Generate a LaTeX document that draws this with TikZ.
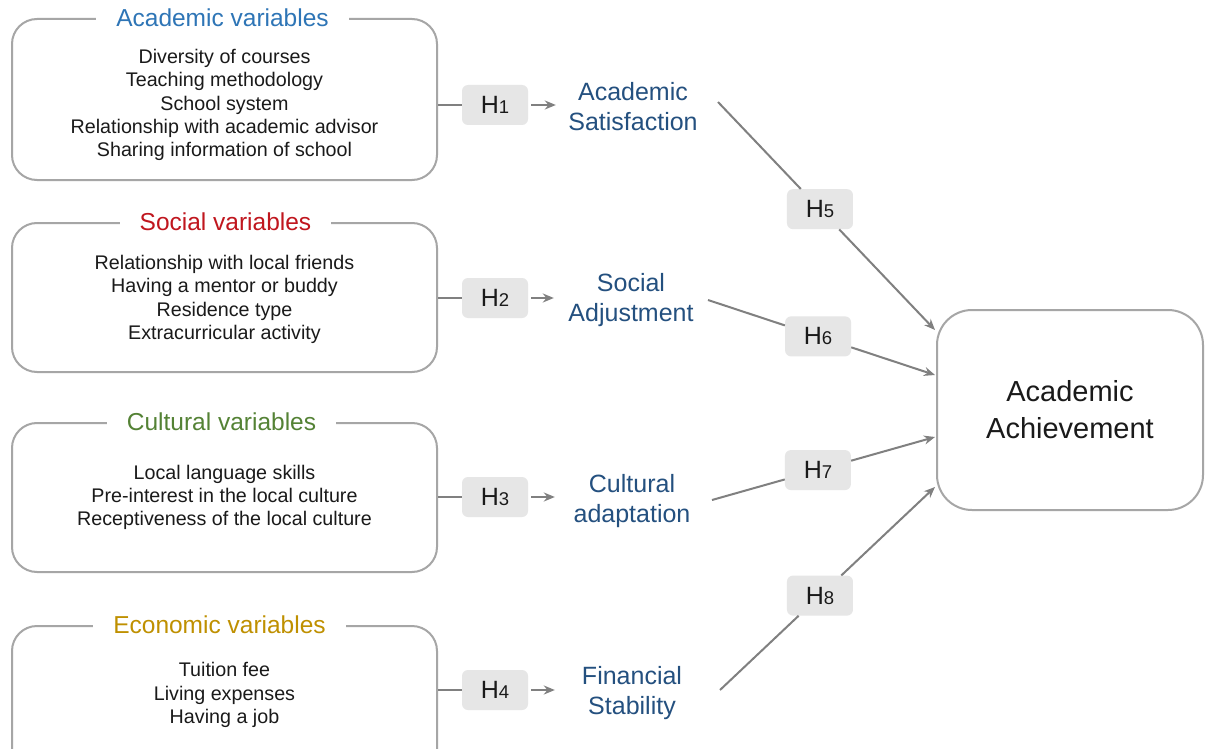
\documentclass[tikz,border=0pt]{standalone}
\usepackage{fontspec}
\setmainfont{Liberation Sans}
\usetikzlibrary{arrows.meta,calc}
\definecolor{boxgray}{HTML}{A6A6A6}
\definecolor{conngray}{HTML}{808080}
\definecolor{hfill}{HTML}{E6E6E6}
\definecolor{medblue}{HTML}{24507F}
\definecolor{acablue}{HTML}{2E75B6}
\definecolor{socred}{HTML}{C0161E}
\definecolor{culgreen}{HTML}{548235}
\definecolor{ecogold}{HTML}{BF9000}
\definecolor{txt}{HTML}{1A1A1A}
\newcommand\hyp[1]{{\fontsize{25}{30}\selectfont H}{\fontsize{18.5}{20}\selectfont #1}}
\begin{document}
\begin{tikzpicture}[x=1pt,y=-1pt,
 varbox/.style={draw=boxgray,line width=2pt,rounded corners=25pt,minimum width=425pt,inner sep=0pt},
 vartitle/.style={fill=white,inner xsep=20pt,inner ysep=2pt,font=\fontsize{24.5}{28}\selectfont},
 vartext/.style={align=center,text=txt,inner sep=0pt,font=\fontsize{19.7}{23.3}\selectfont},
 hbox/.style={fill=hfill,rounded corners=6pt,minimum width=66pt,minimum height=40pt,inner sep=0pt,text=txt},
 med/.style={align=center,text=medblue,text width=150pt,inner sep=0pt,font=\fontsize{25}{30}\selectfont},
 conn/.style={draw=conngray,line width=2pt},
 arr/.style={conn,-{Stealth[length=11pt,width=9pt]}},
 short/.style={arr,shorten <=3pt,shorten >=2pt},
]
\useasboundingbox (0,0) rectangle (1205,749);
\fill[white] (0,0) rectangle (1205,749);
\clip (0,0) rectangle (1205,749);

% variable boxes
\node[varbox,minimum height=161pt] (b1) at (224.5,99.5) {};
\node[varbox,minimum height=149pt] (b2) at (224.5,297.5) {};
\node[varbox,minimum height=149pt] (b3) at (224.5,497.5) {};
\node[varbox,minimum height=149pt] (b4) at (224.5,700.5) {};

\node[vartitle,text=acablue] (t1) at ($(b1.north)+(-2,0)$) {Academic variables};
\node[vartitle,text=socred] (t2) at ($(b2.north)+(1,0)$) {Social variables};
\node[vartitle,text=culgreen] (t3) at ($(b3.north)+(-3,0)$) {Cultural variables};
\node[vartitle,text=ecogold] (t4) at ($(b4.north)+(-5,0)$) {Economic variables};

\node[vartext] (x1) at (224.5,105) {Diversity of courses\\Teaching methodology\\School system\\Relationship with academic advisor\\Sharing information of school};
\node[vartext] (x2) at (224.5,299.5) {Relationship with local friends\\Having a mentor or buddy\\Residence type\\Extracurricular activity};
\node[vartext] (x3) at (224.5,497.5) {Local language skills\\Pre-interest in the local culture\\Receptiveness of the local culture};
\node[vartext] (x4) at (224.5,695) {Tuition fee\\Living expenses\\Having a job};

% first hypotheses
\node[hbox] (h1) at (495,105) {\hyp{1}};
\node[hbox] (h2) at (495,298) {\hyp{2}};
\node[hbox] (h3) at (495,497) {\hyp{3}};
\node[hbox] (h4) at (495,690) {\hyp{4}};

% mediators
\node[med] (m1) at (633,107) {Academic\\Satisfaction};
\node[med] (m2) at (631,300) {Social\\Adjustment};
\node[med] (m3) at (632,501) {Cultural\\adaptation};
\node[med] (m4) at (632,693) {Financial\\Stability};

% outcome
\node[draw=boxgray,line width=2pt,rounded corners=35pt,minimum width=266pt,minimum height=200pt,
  align=center,text=txt,font=\fontsize{29}{37}\selectfont] (aa) at (1070,410) {Academic\\Achievement};

% connectors box -> H -> mediator
\foreach \i in {1,2,3,4}{
  \draw[conn] (b\i.east |- h\i.west) -- (h\i.west);
  \draw[short] (h\i.east) -- (h\i.east -| m\i.west);
}

% second hypotheses
\coordinate (s5) at (718,102);  \coordinate (e5) at (935,330);
\coordinate (s6) at (708,300);  \coordinate (e6) at (935,375);
\coordinate (s7) at (712,500);  \coordinate (e7) at (935,437);
\coordinate (s8) at (720,690);  \coordinate (e8) at (935,487);
\node[hbox] (h5) at ($(s5)!0.47!(e5)$) {\hyp{5}};
\node[hbox] (h6) at ($(s6)!0.485!(e6)$) {\hyp{6}};
\node[hbox] (h7) at ($(s7)!0.475!(e7)$) {\hyp{7}};
\node[hbox] (h8) at ($(s8)!0.465!(e8)$) {\hyp{8}};
\foreach \i in {5,6,7,8}{
  \draw[conn] (s\i) -- (h\i);
  \draw[arr] (h\i) -- (e\i);
}
\end{tikzpicture}
\end{document}
